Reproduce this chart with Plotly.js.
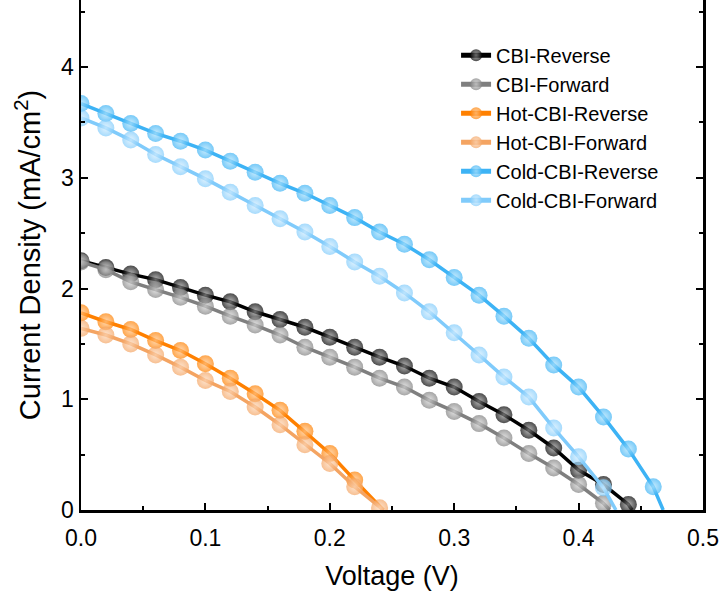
<!DOCTYPE html>
<html>
<head>
<meta charset="utf-8">
<script src="https://cdn.plot.ly/plotly-3.0.1.min.js"></script>
<style>html,body{margin:0;padding:0;background:#fff;}#chart{width:724px;height:605px;}</style>
</head>
<body>
<div id="chart"></div>
<script>
// Voltage grid of the measured points (V)
const voltage = [0.00,0.02,0.04,0.06,0.08,0.10,0.12,0.14,0.16,0.18,0.20,0.22,0.24,0.26,0.28,0.30,0.32,0.34,0.36,0.38,0.40,0.42,0.44,0.46];

const seriesNames = ["CBI-Reverse","CBI-Forward","Hot-CBI-Reverse","Hot-CBI-Forward","Cold-CBI-Reverse","Cold-CBI-Forward"];

// Current density (mA/cm^2)
const cbiReverse = [2.25,2.19,2.13,2.08,2.01,1.94,1.88,1.79,1.72,1.65,1.56,1.47,1.38,1.30,1.19,1.11,0.98,0.86,0.72,0.56,0.36,0.23,0.05];
const cbiForward = [2.24,2.17,2.06,1.99,1.92,1.84,1.75,1.67,1.58,1.47,1.38,1.29,1.19,1.11,0.99,0.89,0.78,0.65,0.51,0.38,0.23,0.06];
const hotReverse = [1.78,1.70,1.63,1.53,1.44,1.32,1.19,1.05,0.90,0.71,0.51,0.27];
const hotForward = [1.64,1.58,1.50,1.40,1.29,1.17,1.07,0.93,0.77,0.59,0.42,0.21,0.02];
const coldReverse = [3.67,3.58,3.49,3.40,3.33,3.25,3.15,3.05,2.95,2.86,2.75,2.64,2.51,2.40,2.26,2.10,1.94,1.75,1.55,1.31,1.11,0.84,0.55,0.21];
const coldForward = [3.54,3.45,3.34,3.21,3.10,2.99,2.87,2.75,2.63,2.51,2.38,2.24,2.11,1.96,1.79,1.60,1.40,1.20,1.02,0.74,0.48,0.20];

// Open-circuit voltages (where each curve reaches zero current)
const voc = [0.443,0.425,0.243,0.243,0.468,0.430];

const colors = ["#000000","#7f7f7f","#ff8000","#f4a462","#3db3f5","#80cbfb"];
const highlights = ["#9a9a9a","#d8d8d8","#ffc890","#fcd9bc","#b4e4fc","#d6eefe"];
const allJ = [cbiReverse,cbiForward,hotReverse,hotForward,coldReverse,coldForward];

const traces = [];
allJ.forEach((J, i) => {
  const x = voltage.slice(0, J.length).concat([voc[i]]);
  const y = J.concat([0]);
  const sizes = J.map(() => 17).concat([0]);
  traces.push({
    type: "scatter",
    mode: "lines+markers",
    name: seriesNames[i],
    x: x, y: y,
    line: {color: colors[i], width: 3.5},
    marker: {
      color: colors[i], size: sizes, line: {width: 0},
      gradient: {type: "radial", color: highlights[i]}
    }
  });
});

const fontFam = "Arial, 'Liberation Sans', sans-serif";
const layout = {
  width: 724, height: 605,
  margin: {l: 81, r: 21, t: 0, b: 95},
  paper_bgcolor: "#fff", plot_bgcolor: "#fff",
  font: {family: fontFam, color: "#000"},
  showlegend: true,
  legend: {
    x: 0.603, y: 0.93, xanchor: "left", yanchor: "top",
    font: {size: 20, family: fontFam, color: "#000"},
    bgcolor: "rgba(0,0,0,0)", borderwidth: 0,
    itemsizing: "constant"
  },
  xaxis: {
    range: [0, 0.5], dtick: 0.1, tick0: 0, tickformat: ".1f",
    ticks: "inside", ticklen: 7, tickwidth: 2, tickcolor: "#000",
    minor: {dtick: 0.05, ticks: "inside", ticklen: 4, tickwidth: 2, tickcolor: "#000"},
    showline: true, linewidth: 2.5, linecolor: "#000", mirror: false,
    showgrid: false, zeroline: false,
    ticklabelstandoff: 6,
    tickfont: {size: 23, family: fontFam},
    title: {text: "Voltage (V)", font: {size: 27, family: fontFam}, standoff: 16}
  },
  yaxis: {
    range: [0, 4.605], dtick: 1, tick0: 0,
    ticks: "inside", ticklen: 7, tickwidth: 2, tickcolor: "#000",
    minor: {dtick: 0.5, ticks: "inside", ticklen: 4, tickwidth: 2, tickcolor: "#000"},
    showline: true, linewidth: 2.5, linecolor: "#000", mirror: "ticks",
    showgrid: false, zeroline: false,
    tickfont: {size: 23, family: fontFam},
    title: {text: "Current Density (mA/cm<sup>2</sup>)", font: {size: 29, family: fontFam}, standoff: 12}
  }
};

Plotly.newPlot("chart", traces, layout, {displayModeBar: false, staticPlot: true});
</script>
</body>
</html>
